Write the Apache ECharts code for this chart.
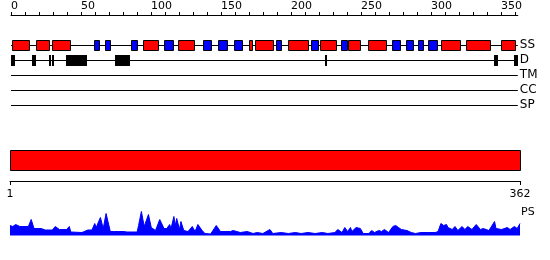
<!DOCTYPE html>
<html>
<head>
<meta charset="utf-8">
<script src="https://cdn.jsdelivr.net/npm/echarts@6/dist/echarts.min.js"></script>
<style>html,body{margin:0;padding:0;background:#fff}#c{width:550px;height:260px}</style>
</head>
<body>
<div id="c"></div>
<script>
var seqLength = 362;
var trackNames = ['SS', 'D', 'TM', 'CC', 'SP'];
var topTicks = [0,10,20,30,40,50,60,70,80,90,100,110,120,130,140,150,160,170,180,190,200,210,220,230,240,250,260,270,280,290,300,310,320,330,340,350,360];
var topLabels = [0,50,100,150,200,250,300,350];
var bottomLabels = [1, 362];
// secondary structure: start, end, kind (H = helix red, E = strand blue)
var ssStart = [2,19,30,60,68,87,95,110,120,138,149,160,171,175,190,199,215,222,237,242,256,273,283,292,299,308,326,351];
var ssEnd   = [13,27,42,63,71,90,105,116,131,143,154,165,172,187,193,212,219,232,240,249,268,278,287,294,304,321,342,360];
var ssKind  = ['H','H','H','E','E','E','H','E','H','E','E','E','H','H','E','H','E','H','E','H','H','E','E','E','E','H','H','H'];
// disorder regions
var dStart = [1,16,28,30,40,75,225,346,360];
var dEnd   = [3,18,28,30,54,85,225,348,362];
// domain
var domStart = [1];
var domEnd = [362];
// profile PS
var psPos = [1,3,5,8,14,16,18,23,26,31,33,36,41,43,44,52,56,59,61,62,65,67,69,72,75,78,81,84,91,92,94,96,99,101,104,107,110,112,114,115,117,118,119,121,122,124,127,130,132,134,137,139,143,147,150,157,159,164,169,173,176,180,185,187,188,193,198,203,207,212,217,222,226,231,233,236,238,240,242,243,246,249,251,255,257,259,262,264,266,269,272,274,276,278,282,285,288,292,297,302,304,306,308,310,311,314,316,318,321,323,325,328,331,334,336,340,344,345,349,353,355,358,360,362];
var psVal = [10,9,11,9,9,16,7,7,5.5,5.5,9,6,6,9,3.5,3,5.5,5.5,12,8,18,7,22,4,4,4,4,3.5,3.5,10,24,9,21,8,5,16,7,7,11,7,19,10,17,6,14,5,4,9,4,11,5,2,1.5,10,4,4,5,3,4,2,3,2,6,2,2,3,2,3,2,3,2,3,2,3,6,3,8,4,8,4,8,7,2,2,5,3,5,4,6,3,9,10,8,6,5,3,2,3,3,3,4,12,10,11,8,6,9,5,9,6,9,6,11,6,7,5,14,7,6,8,6,9,7,12];

var font = 'DejaVu Sans';
var ssData = ssStart.map(function (s, i) { return [s, ssEnd[i]]; });
var dData = dStart.map(function (s, i) { return [s, dEnd[i]]; });
var domData = domStart.map(function (s, i) { return [s, domEnd[i]]; });
var psData = psPos.map(function (p, i) { return [p, psVal[i]]; });

function crisp(v) { return Math.round(v) + 0.5; }

var chart = echarts.init(document.getElementById('c'), null, {renderer: 'canvas'});
chart.setOption({
  animation: false,
  backgroundColor: '#fff',
  grid: [
    {left: 11, top: 45, width: 506.8, height: 60},
    {left: 10, top: 150, width: 510, height: 31},
    {left: 10, top: 210.5, width: 510, height: 25}
  ],
  xAxis: [
    {
      gridIndex: 0, type: 'value', min: 0, max: seqLength, interval: 10,
      position: 'top', offset: 30,
      axisLine: {show: true, lineStyle: {color: '#000', width: 1}},
      axisTick: {show: true, length: 3, customValues: topTicks, lineStyle: {color: '#000'}},
      axisLabel: {customValues: topLabels, align: 'left', margin: 3, color: '#000', fontFamily: font, fontSize: 11},
      splitLine: {show: false}
    },
    {
      gridIndex: 1, type: 'value', min: 1, max: seqLength,
      position: 'bottom',
      axisLine: {show: true, lineStyle: {color: '#000', width: 1}},
      axisTick: {show: true, length: 4, customValues: bottomLabels, lineStyle: {color: '#000'}},
      axisLabel: {customValues: bottomLabels, margin: 8, color: '#000', fontFamily: font, fontSize: 11},
      splitLine: {show: false}
    },
    {gridIndex: 2, type: 'value', min: 1, max: seqLength, show: false}
  ],
  yAxis: [
    {
      gridIndex: 0, type: 'category', data: trackNames, inverse: true, boundaryGap: false,
      position: 'right',
      axisLine: {show: false}, axisTick: {show: false},
      axisLabel: {interval: 0, margin: 2, color: '#000', fontFamily: font, fontSize: 12},
      splitLine: {show: true, interval: 0, lineStyle: {color: '#000', width: 1}}
    },
    {gridIndex: 1, type: 'value', min: 0, max: 1, show: false},
    {
      gridIndex: 2, type: 'value', min: 0, max: 25, position: 'right',
      axisLine: {show: false}, axisTick: {show: false}, axisLabel: {show: false}, splitLine: {show: false},
      name: 'PS', nameLocation: 'end', nameGap: -2,
      nameTextStyle: {align: 'left', verticalAlign: 'middle', color: '#000', fontFamily: font, fontSize: 11, padding: [0, 0, 0, 1]}
    }
  ],
  series: [
    {
      type: 'custom', xAxisIndex: 0, yAxisIndex: 0, data: ssData,
      renderItem: function (params, api) {
        var a = api.coord([api.value(0) - 1, 0]);
        var b = api.coord([api.value(1), 0]);
        var x0 = crisp(a[0]), x1 = crisp(b[0]);
        var kind = ssKind[params.dataIndex];
        return {
          type: 'rect',
          shape: {x: x0, y: Math.round(a[1]) - 4.5, width: Math.max(1, x1 - x0), height: 10},
          style: {fill: kind === 'H' ? '#ff0000' : '#0000ff', stroke: '#000', lineWidth: 1}
        };
      },
      encode: {x: [0, 1]}
    },
    {
      type: 'custom', xAxisIndex: 0, yAxisIndex: 0, data: dData,
      renderItem: function (params, api) {
        var a = api.coord([api.value(0) - 1, 1]);
        var b = api.coord([api.value(1), 1]);
        var x0 = Math.round(a[0]), x1 = Math.round(b[0]);
        return {
          type: 'rect',
          shape: {x: x0, y: Math.round(a[1]) - 5, width: Math.max(2, x1 - x0), height: 11},
          style: {fill: '#000'}
        };
      },
      encode: {x: [0, 1]}
    },
    {
      type: 'custom', xAxisIndex: 1, yAxisIndex: 1, data: domData,
      renderItem: function (params, api) {
        var a = api.coord([api.value(0), 1]);
        var b = api.coord([api.value(1), 1]);
        var x0 = crisp(a[0]), x1 = crisp(b[0]);
        return {
          type: 'rect',
          shape: {x: x0, y: crisp(a[1]), width: x1 - x0, height: 20},
          style: {fill: '#ff0000', stroke: '#000', lineWidth: 1}
        };
      },
      encode: {x: [0, 1]}
    },
    {
      type: 'line', xAxisIndex: 2, yAxisIndex: 2, data: psData,
      showSymbol: false, symbol: 'none',
      lineStyle: {color: '#0000ff', width: 1},
      areaStyle: {color: '#0000ff', opacity: 1}
    }
  ]
});
</script>
</body>
</html>
